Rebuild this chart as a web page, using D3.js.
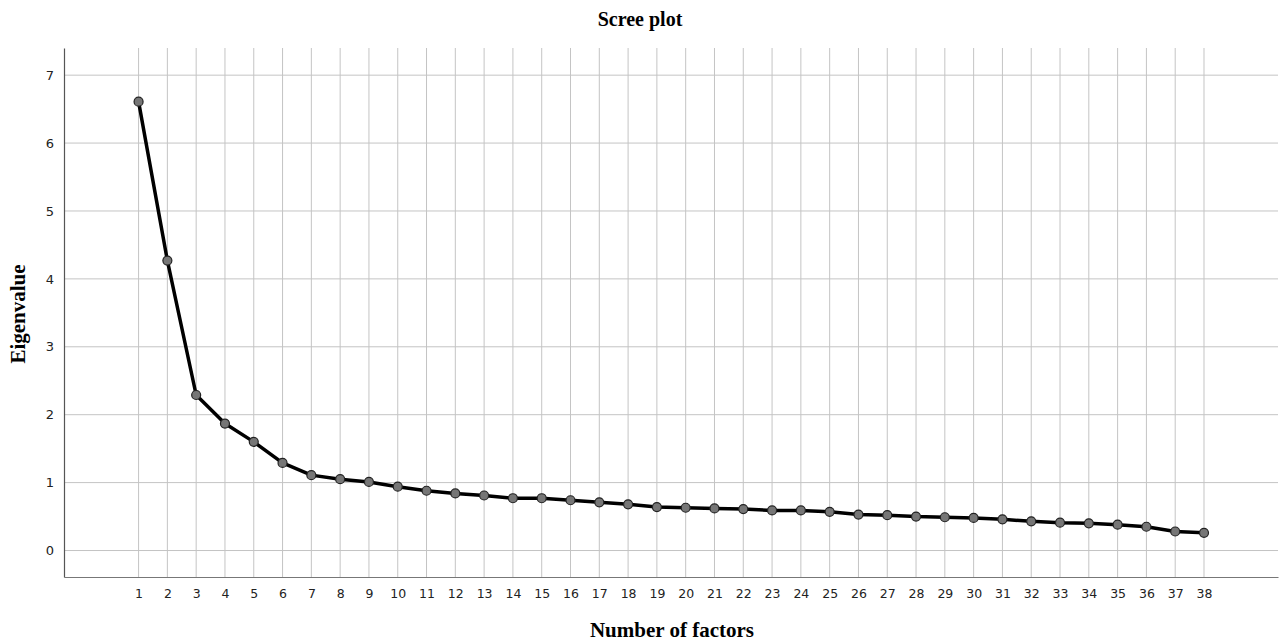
<!DOCTYPE html>
<html>
<head>
<meta charset="utf-8">
<script src="https://cdn.jsdelivr.net/npm/d3@7"></script>
<style>
  body { margin: 0; background: #fff; }
</style>
</head>
<body>
<div id="chart"></div>
<script>
// Factor numbers and their eigenvalues
var factors = d3.range(1, 39);
var eigenvalues = [6.61, 4.27, 2.29, 1.87, 1.60, 1.29, 1.11, 1.05, 1.01, 0.94,
  0.88, 0.84, 0.81, 0.77, 0.77, 0.74, 0.71, 0.68, 0.64, 0.63,
  0.62, 0.61, 0.59, 0.59, 0.57, 0.53, 0.52, 0.50, 0.49, 0.48,
  0.46, 0.43, 0.41, 0.40, 0.38, 0.35, 0.28, 0.26];
var yTicks = [0, 1, 2, 3, 4, 5, 6, 7];

var svgWidth = 1280;
var svgHeight = 641;

var margin = { top: 48, right: 2, bottom: 64, left: 64 };
var chartWidth = svgWidth - margin.left - margin.right;
var chartHeight = svgHeight - margin.top - margin.bottom;

var svg = d3.select("#chart")
  .append("svg")
  .attr("width", svgWidth)
  .attr("height", svgHeight);

var chartGroup = svg.append("g")
  .attr("transform", `translate(${margin.left}, ${margin.top})`);

var data = factors.map((f, i) => ({ factor: f, value: eigenvalues[i] }));

var xScale = d3.scaleLinear()
  .domain([-1.59, 40.57])
  .range([0, chartWidth]);

var yScale = d3.scaleLinear()
  .domain([-0.39, 7.4])
  .range([chartHeight, 0]);

// Grid lines
chartGroup.append("g")
  .selectAll("line")
  .data(factors)
  .enter()
  .append("line")
  .attr("x1", d => xScale(d))
  .attr("x2", d => xScale(d))
  .attr("y1", 0)
  .attr("y2", chartHeight)
  .attr("stroke", "#c4c4c4")
  .attr("stroke-width", 1);

chartGroup.append("g")
  .selectAll("line")
  .data(yTicks)
  .enter()
  .append("line")
  .attr("x1", 0)
  .attr("x2", chartWidth)
  .attr("y1", d => yScale(d))
  .attr("y2", d => yScale(d))
  .attr("stroke", "#c4c4c4")
  .attr("stroke-width", 1);

// Axes
var leftAxis = d3.axisLeft(yScale).tickValues(yTicks).tickSize(0).tickPadding(10);
var bottomAxis = d3.axisBottom(xScale).tickValues(factors).tickSize(0).tickPadding(12);

var yAxisG = chartGroup.append("g").call(leftAxis);
yAxisG.select(".domain").attr("stroke", "#555").attr("stroke-width", 1.2);
yAxisG.selectAll("text")
  .attr("font-family", "DejaVu Sans, sans-serif")
  .attr("font-size", "13px")
  .attr("fill", "#222");

var xAxisG = chartGroup.append("g")
  .attr("transform", `translate(0, ${chartHeight})`)
  .call(bottomAxis);
xAxisG.select(".domain").attr("stroke", "#777").attr("stroke-width", 1.2);
xAxisG.selectAll("text")
  .attr("font-family", "DejaVu Sans, sans-serif")
  .attr("font-size", "12.5px")
  .attr("fill", "#222");

// Line and points
var line = d3.line()
  .x(d => xScale(d.factor))
  .y(d => yScale(d.value));

chartGroup.append("path")
  .datum(data)
  .attr("d", line)
  .attr("fill", "none")
  .attr("stroke", "#000")
  .attr("stroke-width", 3.5)
  .attr("stroke-linejoin", "round");

chartGroup.selectAll("circle")
  .data(data)
  .enter()
  .append("circle")
  .attr("cx", d => xScale(d.factor))
  .attr("cy", d => yScale(d.value))
  .attr("r", 4.5)
  .attr("fill", "#767676")
  .attr("stroke", "#222")
  .attr("stroke-width", 1.2);

// Titles
svg.append("text")
  .attr("x", 640)
  .attr("y", 26)
  .attr("text-anchor", "middle")
  .attr("font-family", "Liberation Serif, serif")
  .attr("font-weight", "bold")
  .attr("font-size", "20px")
  .text("Scree plot");

svg.append("text")
  .attr("x", 672)
  .attr("y", 637)
  .attr("text-anchor", "middle")
  .attr("font-family", "Liberation Serif, serif")
  .attr("font-weight", "bold")
  .attr("font-size", "21px")
  .text("Number of factors");

svg.append("text")
  .attr("transform", "translate(25, 314) rotate(-90)")
  .attr("text-anchor", "middle")
  .attr("font-family", "Liberation Serif, serif")
  .attr("font-weight", "bold")
  .attr("font-size", "21px")
  .text("Eigenvalue");
</script>
</body>
</html>
